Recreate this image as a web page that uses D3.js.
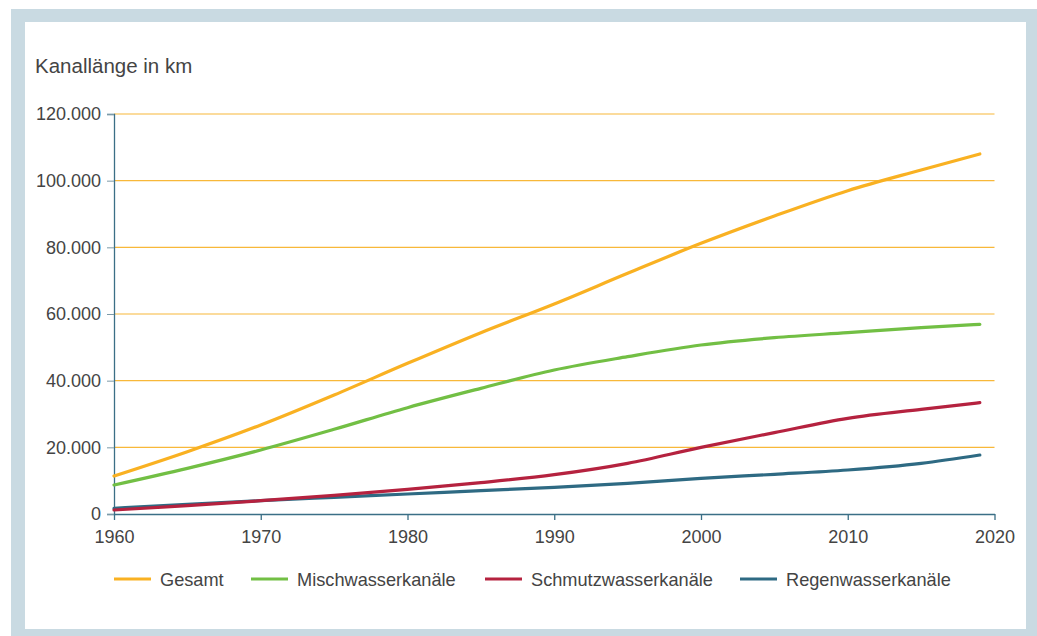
<!DOCTYPE html>
<html lang="de">
<head>
<meta charset="UTF-8">
<title>Kanallänge</title>
<script src="https://d3js.org/d3.v7.min.js"></script>
<style>
  body { margin: 0; background: #fff; }
  text { font-family: "Liberation Sans", Arial, sans-serif; fill: #444; }
</style>
</head>
<body>
<script>
// Jahre und Werte (km)
const years = [1960, 1965, 1970, 1975, 1980, 1985, 1990, 1995, 2000, 2005, 2010, 2015, 2019];
const gesamt = [11400, 18700, 26700, 35700, 45200, 54400, 63000, 72200, 81200, 89400, 97000, 103200, 108000];
const misch = [8700, 13700, 19200, 25400, 31900, 37700, 43200, 47200, 50700, 52900, 54400, 55900, 56900];
const schmutz = [1200, 2500, 4000, 5600, 7400, 9400, 11800, 15200, 20000, 24400, 28700, 31400, 33400];
const regen = [1700, 2900, 4000, 5000, 6000, 7000, 8000, 9200, 10700, 11900, 13200, 15200, 17700];

const seriesNames = ["Gesamt", "Mischwasserkanäle", "Schmutzwasserkanäle", "Regenwasserkanäle"];
const seriesColors = ["#f9b122", "#72bf44", "#b5223f", "#2e6a83"];
const xTicks = [1960, 1970, 1980, 1990, 2000, 2010, 2020];
const yTicks = [0, 20000, 40000, 60000, 80000, 100000, 120000];

const W = 1037, H = 636;
const svg = d3.select("body").append("svg").attr("width", W).attr("height", H);

// Rahmen
svg.append("rect").attr("x", 11).attr("y", 9).attr("width", W - 11).attr("height", H - 9).attr("fill", "#c9dae2");
svg.append("rect").attr("x", 25).attr("y", 22).attr("width", 1001).attr("height", 607).attr("fill", "#fff");

const x = d3.scaleLinear().domain([1960, 2020]).range([114, 994.5]);
const y = d3.scaleLinear().domain([0, 120000]).range([514, 114]);

const fmt = d => d === 0 ? "0" : d3.format(",")(d).replace(/,/g, ".");

svg.append("text").attr("x", 35).attr("y", 73).style("font-size", "20.5px").text("Kanallänge in km");

// Gitterlinien
svg.append("g").selectAll("line").data(yTicks.filter(d => d > 0)).join("line")
  .attr("x1", 114).attr("x2", 994.5)
  .attr("y1", d => y(d)).attr("y2", d => y(d))
  .attr("stroke", "#f8b83a").attr("stroke-width", 1.2);

// y-Achse
const yAxis = svg.append("g").attr("transform", "translate(114,0)")
  .call(d3.axisLeft(y).tickValues(yTicks).tickFormat(fmt).tickSize(7).tickPadding(6));
yAxis.select(".domain").attr("stroke", "#3b6f86").attr("stroke-width", 1.3);
yAxis.selectAll(".tick line").attr("stroke", "#7d9aa8");
yAxis.selectAll(".tick text").style("font-size", "18px").attr("fill", "#444").style("font-family", "Liberation Sans, Arial, sans-serif");

// x-Achse
const xAxis = svg.append("g").attr("transform", "translate(0,514)")
  .call(d3.axisBottom(x).tickValues(xTicks).tickFormat(d3.format("d")).tickSizeInner(6).tickSizeOuter(0).tickPadding(10));
xAxis.select(".domain").attr("stroke", "#3b6f86").attr("stroke-width", 1.3);
xAxis.selectAll(".tick line").attr("stroke", "#3b6f86").attr("stroke-width", 1.3);
xAxis.selectAll(".tick text").style("font-size", "18px").attr("fill", "#444").style("font-family", "Liberation Sans, Arial, sans-serif");

// Linien
const allSeries = [gesamt, misch, schmutz, regen];
const line = d3.line().x((d, i) => x(years[i])).y(d => y(d)).curve(d3.curveMonotoneX);
// Regen zuerst, dann die anderen darüber
[3, 2, 1, 0].forEach(k => {
  svg.append("path").datum(allSeries[k]).attr("d", line)
    .attr("fill", "none").attr("stroke", seriesColors[k])
    .attr("stroke-width", 3.2).attr("stroke-linecap", "round");
});

// Legende
const legendX = [114, 251, 485, 740];
const lg = svg.append("g").selectAll("g").data(seriesNames).join("g")
  .attr("transform", (d, i) => `translate(${legendX[i]},579)`);
lg.append("line").attr("x1", 0).attr("x2", 37).attr("y1", 0).attr("y2", 0)
  .attr("stroke", (d, i) => seriesColors[i]).attr("stroke-width", 3.2);
lg.append("text").attr("x", 46).attr("y", 6.5).style("font-size", "18.2px").text(d => d);
</script>
</body>
</html>
